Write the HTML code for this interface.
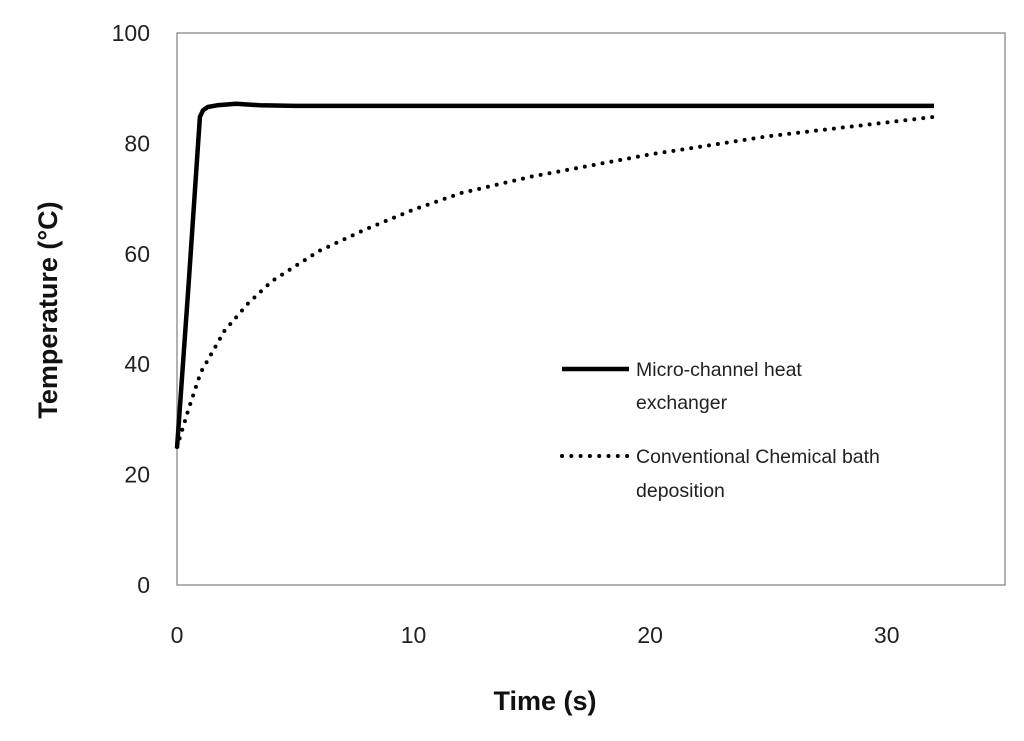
<!DOCTYPE html>
<html><head><meta charset="utf-8"><style>
body{margin:0;background:#fff;width:1024px;height:736px;overflow:hidden}
svg text{font-family:"Liberation Sans",sans-serif}
</style></head><body>
<svg width="1024" height="736">
<g id="chart"></g>
</svg>
<script>
const xTicks=[0,10,20,30];
const yTicks=[0,20,40,60,80,100];
const microT=[0,0.5,0.97,1.1,1.3,1.7,2.5,3.5,5,32];
const microV=[24.8,55,84.8,86,86.6,86.9,87.2,86.9,86.8,86.8];
const cbdT=[0,0.5,1,2,3,4,6,8,10,12,15,20,25,32];
const cbdV=[25,32,38.5,46,51,55,60.5,64.5,68,71,74,78,81.3,84.8];
const X0=177,X1=1005,Y0=585,Y1=33,XMAX=35,YMAX=100;
const sx=v=>X0+(X1-X0)*v/XMAX, sy=v=>Y0-(Y0-Y1)*v/YMAX;
const NS="http://www.w3.org/2000/svg",g=document.getElementById('chart');
function mk(t,a,txt){const e=document.createElementNS(NS,t);for(const k in a)e.setAttribute(k,a[k]);if(txt!=null)e.textContent=txt;g.appendChild(e);return e;}
let e=mk('rect',{x:X0,y:Y1,width:X1-X0,height:Y0-Y1,fill:'none',stroke:'#888','stroke-width':1.3});


xTicks.forEach(v=>{const t=mk('text',{x:sx(v),y:643,'text-anchor':'middle','font-size':23,fill:'#222'},v);

});
yTicks.forEach(v=>{const t=mk('text',{x:150,y:sy(v)+8,'text-anchor':'end','font-size':23,fill:'#222'},v);

});
e=mk('text',{x:545,y:710,'text-anchor':'middle','font-size':27,'font-weight':'bold',fill:'#111'},'Time (s)');


e=mk('text',{x:0,y:0,transform:'translate(57,310) rotate(-90)','text-anchor':'middle','font-size':27,'font-weight':'bold',fill:'#111'},'Temperature (°C)');


const pts=(T,V)=>T.map((t,i)=>sx(t).toFixed(1)+','+sy(V[i]).toFixed(1)).join(' ');
e=mk('polyline',{points:pts(cbdT,cbdV),fill:'none',stroke:'#000','stroke-width':4,'stroke-dasharray':'0 9','stroke-linecap':'round'});


e=mk('polyline',{points:pts(microT,microV),fill:'none',stroke:'#000','stroke-width':4.5,'stroke-linejoin':'round'});


e=mk('line',{x1:562,y1:369,x2:629,y2:369,stroke:'#000','stroke-width':4.5});


e=mk('line',{x1:562,y1:456,x2:629,y2:456,stroke:'#000','stroke-width':4,'stroke-dasharray':'0 9.3','stroke-linecap':'round'});


[['Micro-channel heat',376],['exchanger',409],['Conventional Chemical bath',463],['deposition',497]].forEach(([s,y])=>{
const t=mk('text',{x:636,y:y,'font-size':19.5,fill:'#222'},s);

});
</script>
</body></html>
